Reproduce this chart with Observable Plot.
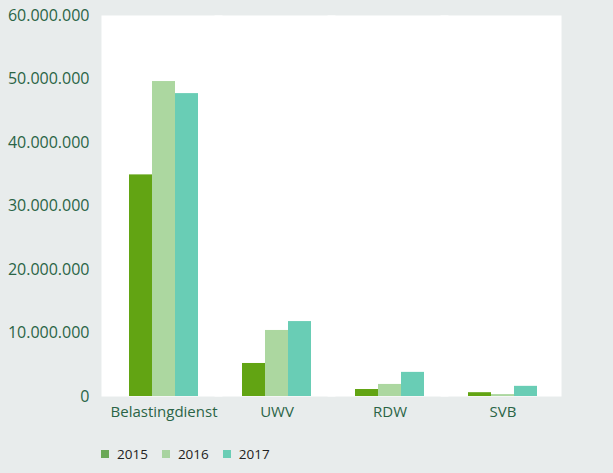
<!DOCTYPE html>
<html>
<head>
<meta charset="utf-8">
<script src="https://cdn.jsdelivr.net/npm/d3@7"></script>
<script src="https://cdn.jsdelivr.net/npm/@observablehq/plot@0.6"></script>
<style>
  html, body { margin: 0; padding: 0; background: #e8ecec; }
  body { width: 613px; height: 473px; overflow: hidden; font-family: "Open Sans", sans-serif; }
  #chart svg { display: block; }
  #chart g[aria-label="y-axis tick label"] { font-size: 16px; }
  #legend { display: flex; align-items: center; margin-left: 101px; margin-top: 15px; font-size: 13.5px; color: #222; }
  #legend .item { display: flex; align-items: center; margin-right: 14px; }
  #legend .sw { width: 8px; height: 8px; margin-right: 8px; }
</style>
</head>
<body>
<div id="chart"></div>
<div id="legend"></div>
<script>
const organisations = ["Belastingdienst", "UWV", "RDW", "SVB"];
const years = ["2015", "2016", "2017"];
const values2015 = [34900000, 5200000, 1100000, 600000];
const values2016 = [49600000, 10400000, 1900000, 300000];
const values2017 = [47700000, 11800000, 3800000, 1600000];
const yTicks = [0, 10000000, 20000000, 30000000, 40000000, 50000000, 60000000];
const barColors = ["#62a413", "#acd7a0", "#69cdb5"];
const legendColors = ["#6aa857", "#a8d3a0", "#6acdb5"];

const series = [values2015, values2016, values2017];
const data = [];
organisations.forEach((org, i) => {
  years.forEach((yr, j) => data.push({org, year: yr, value: series[j][i]}));
});

const nl = d3.formatLocale({decimal: ",", thousands: ".", grouping: [3], currency: ["€", ""]});
const fmt = nl.format(",d");

const chart = Plot.plot({
  width: 613,
  height: 430,
  marginLeft: 101,
  marginRight: 52,
  marginTop: 15,
  marginBottom: 34,
  style: {fontFamily: "Open Sans", fontSize: "15px", color: "#2a6446", background: "transparent"},
  fx: {domain: organisations, paddingInner: 0.372, paddingOuter: 0.221, align: 0.54, axis: "bottom", tickSize: 0, tickPadding: 10, label: null},
  x: {domain: years, padding: 0, axis: null},
  y: {domain: [0, 60000000], ticks: yTicks, tickFormat: fmt, tickSize: 0, tickPadding: 39, label: null},
  color: {domain: years, range: barColors},
  marks: [
    Plot.frame({fill: "white", stroke: "none", insetLeft: -27, insetRight: -23}),
    Plot.barY(data, {fx: "org", x: "year", y: "value", fill: "year"})
  ]
});
document.getElementById("chart").appendChild(chart);

const legend = document.getElementById("legend");
years.forEach((yr, j) => {
  const item = document.createElement("div");
  item.className = "item";
  const sw = document.createElement("div");
  sw.className = "sw";
  sw.style.background = legendColors[j];
  const t = document.createElement("span");
  t.textContent = yr;
  item.appendChild(sw);
  item.appendChild(t);
  legend.appendChild(item);
});
</script>
</body>
</html>
